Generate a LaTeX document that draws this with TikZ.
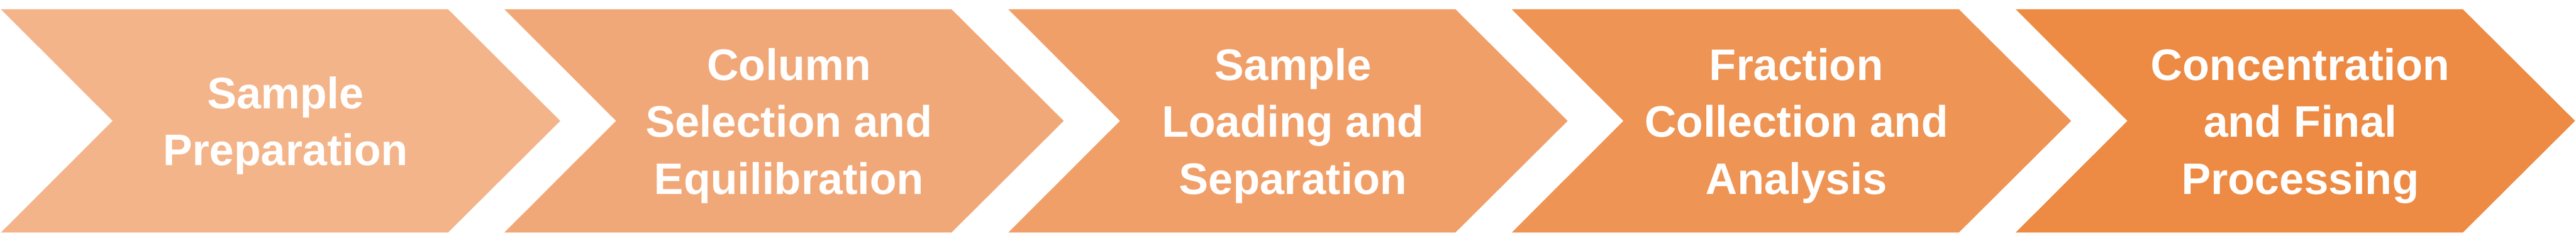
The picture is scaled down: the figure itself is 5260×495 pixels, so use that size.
\documentclass[tikz,border=0pt]{standalone}
\usepackage{fontspec}
\setmainfont{Liberation Sans}
\definecolor{cA}{HTML}{F4B48A}
\definecolor{cB}{HTML}{F1A878}
\definecolor{cC}{HTML}{F09F69}
\definecolor{cD}{HTML}{EE9454}
\definecolor{cE}{HTML}{ED8A43}
\tikzset{
  steplabel/.style={text=white, align=center, inner sep=0pt, text depth=19pt,
    font=\fontsize{90}{116}\selectfont\bfseries},
}
\newcommand{\chevronshape}[2]{%
  \fill[#2] (#1,19) -- (#1+913,19) -- (#1+1142,246.5) -- (#1+913,474) -- (#1,474) -- (#1+228,246.5) -- cycle;}
\begin{document}
\begin{tikzpicture}[x=1pt,y=-1pt]
\useasboundingbox (0,0) rectangle (5260,495);
\chevronshape{2}{cA}
\chevronshape{1030}{cB}
\chevronshape{2059}{cC}
\chevronshape{3087}{cD}
\chevronshape{4116}{cE}
\node[steplabel] (s1) at (583,256.5) {Sample\\Preparation};
\node[steplabel] (s2) at (1611,256.5) {Column\\Selection and\\Equilibration};
\node[steplabel] (s3) at (2640,256.5) {Sample\\Loading and\\Separation};
\node[steplabel] (s4) at (3668,256.5) {Fraction\\Collection and\\Analysis};
\node[steplabel] (s5) at (4697,256.5) {Concentration\\and Final\\Processing};
\end{tikzpicture}
\end{document}
